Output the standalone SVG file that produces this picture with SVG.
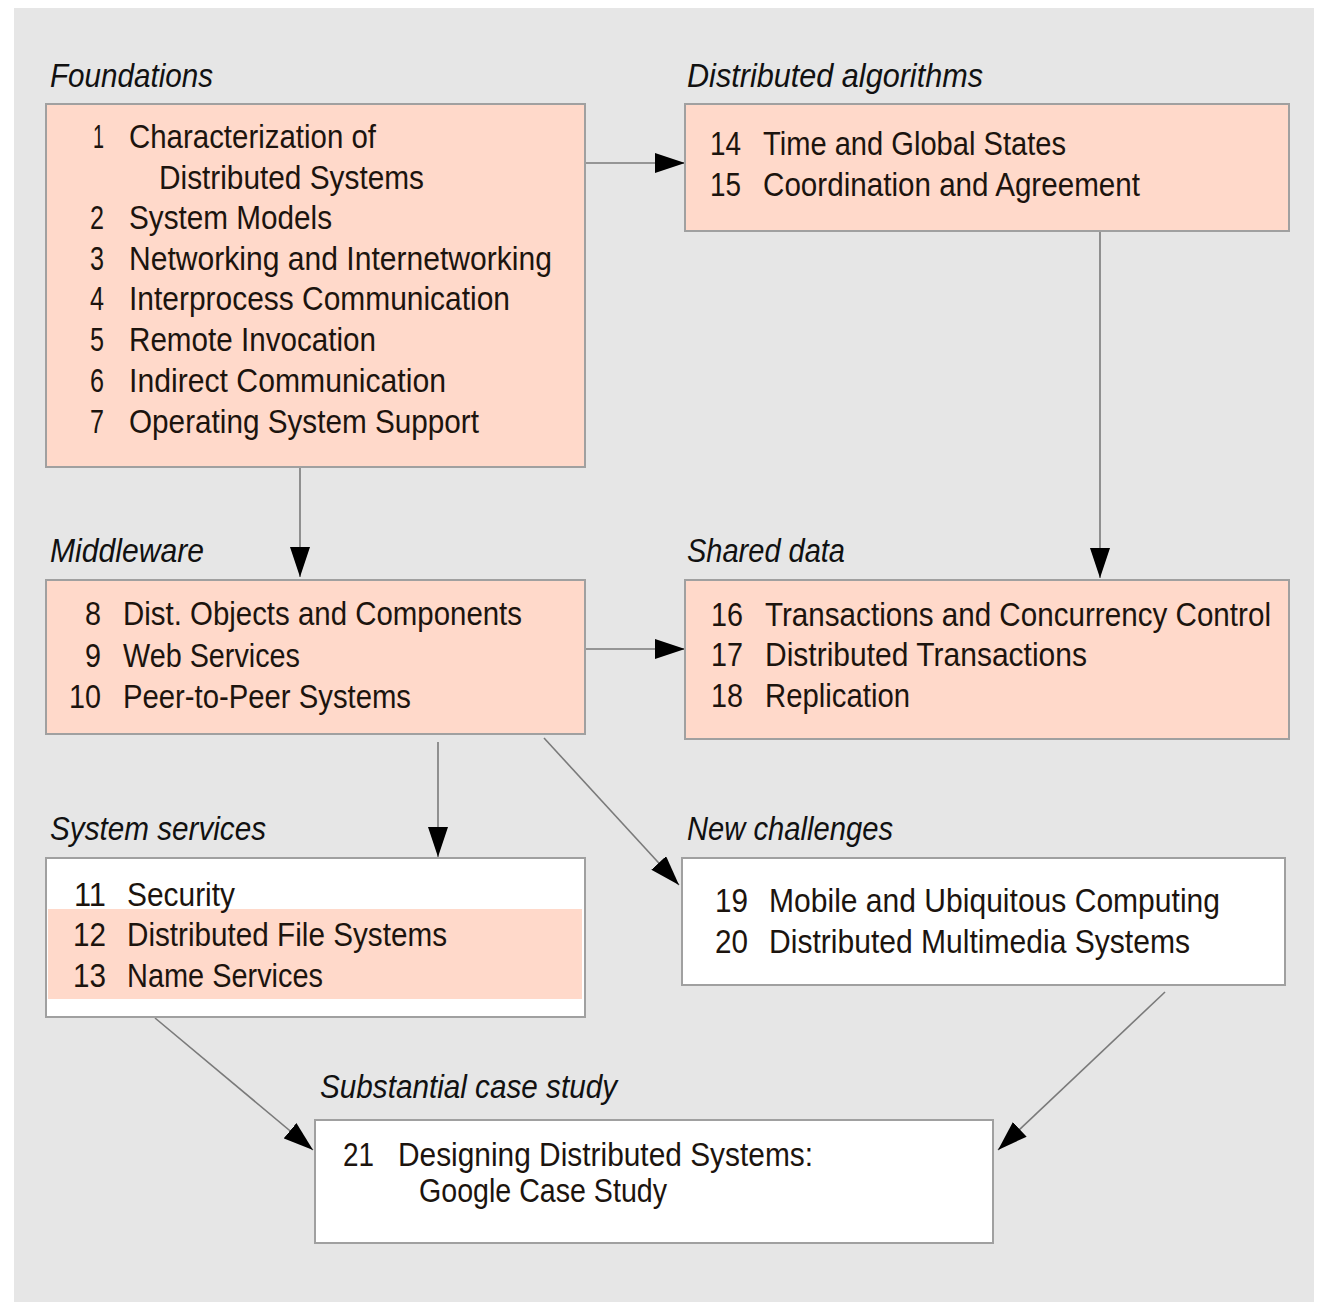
<svg xmlns="http://www.w3.org/2000/svg" width="1318" height="1302" viewBox="0 0 1318 1302">
<style>
.bg{fill:#e6e6e6}
.box{fill:#ffd9ca;stroke:#a0a0a0;stroke-width:2}
.wbox{fill:#ffffff;stroke:#a0a0a0;stroke-width:2}
.band{fill:#ffd9ca}
text{font-family:"Liberation Sans Narrow","Liberation Sans",Arial,sans-serif;fill:#1c140e}
.t{font-size:33px}
.n{font-size:33px;text-anchor:end}
.lbl{font-size:33px;font-style:italic;fill:#111}
.edge{fill:none;stroke:#7a7a7a;stroke-width:1.6}
</style>
<defs>
<marker id="ah" markerUnits="userSpaceOnUse" markerWidth="30" markerHeight="20" refX="30" refY="10" orient="auto">
<path d="M0,0 L30,10 L0,20 Z" fill="#000"/>
</marker>
</defs>
<rect class="bg" x="14" y="8" width="1300" height="1294"/>

<g id="connectors">
<path class="edge" d="M585,163 L685,163" marker-end="url(#ah)"/>
<path class="edge" d="M300,467 L300,577" marker-end="url(#ah)"/>
<path class="edge" d="M1100,231 L1100,578" marker-end="url(#ah)"/>
<path class="edge" d="M585,649 L685,649" marker-end="url(#ah)"/>
<path class="edge" d="M438,742 L438,857" marker-end="url(#ah)"/>
<path class="edge" d="M544,738 L679,885" marker-end="url(#ah)"/>
<path class="edge" d="M155,1018 L313,1150" marker-end="url(#ah)"/>
<path class="edge" d="M1165,992 L998,1150" marker-end="url(#ah)"/>
</g>

<g id="foundations">
<text class="lbl" x="50" y="87" textLength="163" lengthAdjust="spacingAndGlyphs">Foundations</text>
<rect class="box" x="46" y="104" width="539" height="363"/>
<text class="n" x="104" y="148" textLength="11" lengthAdjust="spacingAndGlyphs">1</text>
<text class="t" x="129" y="148" textLength="247" lengthAdjust="spacingAndGlyphs">Characterization of</text>
<text class="t" x="159" y="189" textLength="265" lengthAdjust="spacingAndGlyphs">Distributed Systems</text>
<text class="n" x="104" y="229" textLength="14" lengthAdjust="spacingAndGlyphs">2</text>
<text class="t" x="129" y="229" textLength="203" lengthAdjust="spacingAndGlyphs">System Models</text>
<text class="n" x="104" y="270" textLength="14" lengthAdjust="spacingAndGlyphs">3</text>
<text class="t" x="129" y="270" textLength="423" lengthAdjust="spacingAndGlyphs">Networking and Internetworking</text>
<text class="n" x="104" y="310" textLength="14" lengthAdjust="spacingAndGlyphs">4</text>
<text class="t" x="129" y="310" textLength="381" lengthAdjust="spacingAndGlyphs">Interprocess Communication</text>
<text class="n" x="104" y="351" textLength="14" lengthAdjust="spacingAndGlyphs">5</text>
<text class="t" x="129" y="351" textLength="247" lengthAdjust="spacingAndGlyphs">Remote Invocation</text>
<text class="n" x="104" y="392" textLength="14" lengthAdjust="spacingAndGlyphs">6</text>
<text class="t" x="129" y="392" textLength="317" lengthAdjust="spacingAndGlyphs">Indirect Communication</text>
<text class="n" x="104" y="433" textLength="14" lengthAdjust="spacingAndGlyphs">7</text>
<text class="t" x="129" y="433" textLength="350" lengthAdjust="spacingAndGlyphs">Operating System Support</text>
</g>

<g id="distributed-algorithms">
<text class="lbl" x="687" y="87" textLength="296" lengthAdjust="spacingAndGlyphs">Distributed algorithms</text>
<rect class="box" x="685" y="104" width="604" height="127"/>
<text class="n" x="741" y="155" textLength="31" lengthAdjust="spacingAndGlyphs">14</text>
<text class="t" x="763" y="155" textLength="303" lengthAdjust="spacingAndGlyphs">Time and Global States</text>
<text class="n" x="741" y="196" textLength="31" lengthAdjust="spacingAndGlyphs">15</text>
<text class="t" x="763" y="196" textLength="377" lengthAdjust="spacingAndGlyphs">Coordination and Agreement</text>
</g>

<g id="middleware">
<text class="lbl" x="50" y="562" textLength="154" lengthAdjust="spacingAndGlyphs">Middleware</text>
<rect class="box" x="46" y="580" width="539" height="154"/>
<text class="n" x="101" y="625" textLength="16" lengthAdjust="spacingAndGlyphs">8</text>
<text class="t" x="123" y="625" textLength="399" lengthAdjust="spacingAndGlyphs">Dist. Objects and Components</text>
<text class="n" x="101" y="667" textLength="16" lengthAdjust="spacingAndGlyphs">9</text>
<text class="t" x="123" y="667" textLength="177" lengthAdjust="spacingAndGlyphs">Web Services</text>
<text class="n" x="101" y="708" textLength="32" lengthAdjust="spacingAndGlyphs">10</text>
<text class="t" x="123" y="708" textLength="288" lengthAdjust="spacingAndGlyphs">Peer-to-Peer Systems</text>
</g>

<g id="shared-data">
<text class="lbl" x="687" y="562" textLength="158" lengthAdjust="spacingAndGlyphs">Shared data</text>
<rect class="box" x="685" y="580" width="604" height="159"/>
<text class="n" x="743" y="626" textLength="32" lengthAdjust="spacingAndGlyphs">16</text>
<text class="t" x="765" y="626" textLength="506" lengthAdjust="spacingAndGlyphs">Transactions and Concurrency Control</text>
<text class="n" x="743" y="666" textLength="32" lengthAdjust="spacingAndGlyphs">17</text>
<text class="t" x="765" y="666" textLength="322" lengthAdjust="spacingAndGlyphs">Distributed Transactions</text>
<text class="n" x="743" y="707" textLength="32" lengthAdjust="spacingAndGlyphs">18</text>
<text class="t" x="765" y="707" textLength="145" lengthAdjust="spacingAndGlyphs">Replication</text>
</g>

<g id="system-services">
<text class="lbl" x="50" y="840" textLength="216" lengthAdjust="spacingAndGlyphs">System services</text>
<rect class="wbox" x="46" y="858" width="539" height="159"/>
<rect class="band" x="48" y="909" width="534" height="90"/>
<text class="n" x="106" y="906" textLength="32" lengthAdjust="spacingAndGlyphs">11</text>
<text class="t" x="127" y="906" textLength="108" lengthAdjust="spacingAndGlyphs">Security</text>
<text class="n" x="106" y="946" textLength="33" lengthAdjust="spacingAndGlyphs">12</text>
<text class="t" x="127" y="946" textLength="320" lengthAdjust="spacingAndGlyphs">Distributed File Systems</text>
<text class="n" x="106" y="987" textLength="33" lengthAdjust="spacingAndGlyphs">13</text>
<text class="t" x="127" y="987" textLength="196" lengthAdjust="spacingAndGlyphs">Name Services</text>
</g>

<g id="new-challenges">
<text class="lbl" x="687" y="840" textLength="206" lengthAdjust="spacingAndGlyphs">New challenges</text>
<rect class="wbox" x="682" y="858" width="603" height="127"/>
<text class="n" x="748" y="912" textLength="33" lengthAdjust="spacingAndGlyphs">19</text>
<text class="t" x="769" y="912" textLength="451" lengthAdjust="spacingAndGlyphs">Mobile and Ubiquitous Computing</text>
<text class="n" x="748" y="953" textLength="33" lengthAdjust="spacingAndGlyphs">20</text>
<text class="t" x="769" y="953" textLength="421" lengthAdjust="spacingAndGlyphs">Distributed Multimedia Systems</text>
</g>

<g id="case-study">
<text class="lbl" x="320" y="1098" textLength="297" lengthAdjust="spacingAndGlyphs">Substantial case study</text>
<rect class="wbox" x="315" y="1120" width="678" height="123"/>
<text class="n" x="374" y="1166" textLength="31" lengthAdjust="spacingAndGlyphs">21</text>
<text class="t" x="398" y="1166" textLength="415" lengthAdjust="spacingAndGlyphs">Designing Distributed Systems:</text>
<text class="t" x="419" y="1202" textLength="248" lengthAdjust="spacingAndGlyphs">Google Case Study</text>
</g>
</svg>
